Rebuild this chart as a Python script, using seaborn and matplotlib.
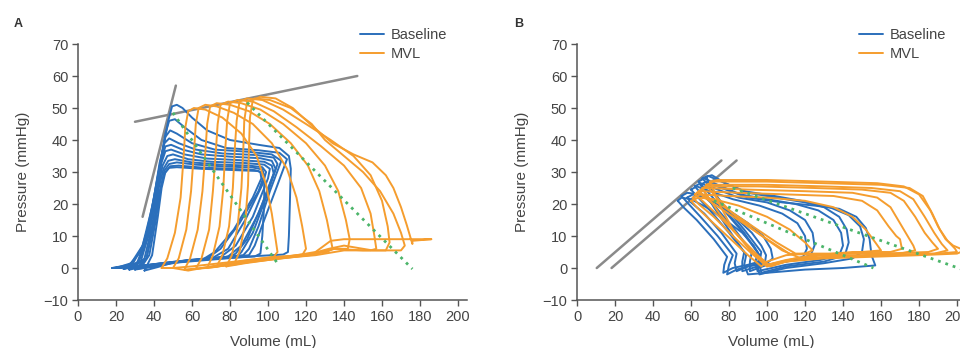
"""Pressure-volume loops, Baseline vs MVL, two panels (A and B)."""

import matplotlib

matplotlib.use("Agg")
import matplotlib.pyplot as plt
import pandas as pd
import seaborn as sns
from matplotlib.lines import Line2D

BLUE = "#2b6fbb"
ORANGE = "#f59d2e"
GRAY = "#8a8a8a"
GREEN = "#4cb56a"

# ---------------------------------------------------------------- panel A
# each loop is a list of (volume mL, pressure mmHg)
A_BASELINE_LOOPS = [
    [(18, 0), (27, 1), (33, 5), (38, 15), (42, 27), (45, 38), (47.5, 46), (49.5, 50.5), (52, 51), (55, 50),
     (60, 47), (68, 43), (80, 40), (95, 38.5), (106, 37.5), (111, 35), (112, 31), (111.5, 20), (111, 10),
     (110.5, 5), (108, 4.2), (90, 3.6), (70, 2.6), (50, 1.6), (33, 0.6), (18, 0)],
    [(20, 0), (28, 1.5), (34, 7), (39, 19), (43, 32), (46, 42), (48, 46), (51, 46.5), (56, 44), (65, 40),
     (78, 37.5), (95, 36.8), (106, 36), (110, 34), (105, 26), (98, 15), (93, 7), (90, 4), (75, 3.2), (55, 2),
     (35, 0.8), (20, 0)],
    [(22, 0), (29, 1.5), (35, 8), (40, 22), (44, 35), (46, 41), (48.5, 43), (52, 42), (60, 39), (72, 37),
     (90, 36.3), (102, 35.5), (107, 33.5), (101, 24), (95, 13), (90, 6), (87, 4), (70, 3), (50, 1.8),
     (30, 0.5), (22, 0)],
    [(24, -0.3), (31, 1.5), (36, 9), (40, 22), (43, 33), (45.5, 39), (48, 40.5), (53, 39), (62, 37),
     (76, 35.8), (94, 35.3), (103, 34.5), (105, 32.5), (99, 22), (92, 11), (86, 5), (84, 3.8), (65, 2.8),
     (45, 1.6), (30, 0.3), (24, -0.3)],
    [(25, 0), (32, 2), (37, 10), (41, 24), (44, 34), (46, 38), (49, 38.5), (55, 37), (65, 35.5), (80, 34.8),
     (96, 34.3), (102, 33.5), (104, 31), (97, 20), (89, 9), (83, 4.5), (80, 3.5), (60, 2.6), (40, 1.2),
     (25, 0)],
    [(27, -0.5), (33, 2), (38, 12), (41.5, 25), (44, 33), (46, 36.5), (49, 37), (56, 35.5), (68, 34.2),
     (85, 33.7), (98, 33.2), (102, 32), (103, 29.5), (95, 17), (86, 7), (79, 3.6), (76, 3.2), (58, 2.4),
     (40, 1), (27, -0.5)],
    [(29, 0), (35, 3), (39, 13), (42, 25), (44.5, 32), (47, 35), (50, 35.5), (58, 34), (70, 33.2),
     (88, 32.8), (98, 32.3), (101, 31), (100, 28), (92, 16), (83, 7), (75, 3.4), (72, 3), (55, 2.2),
     (40, 0.8), (29, 0)],
    [(31, -0.3), (36, 3), (40, 14), (42.5, 25), (45, 31), (47.5, 33.5), (51, 34), (60, 33), (75, 32.3),
     (90, 32), (97, 31.5), (99, 30), (97, 26), (88, 15), (79, 6), (71, 3.2), (68, 2.8), (52, 2), (40, 0.6),
     (31, -0.3)],
    [(33, 0), (37.5, 4), (41, 15), (43.5, 25), (45.5, 30.5), (48, 32.5), (52, 33), (62, 32.3), (78, 31.7),
     (92, 31.4), (97, 30.8), (98, 29), (95, 24), (85, 14), (75, 6), (68, 3), (65, 2.7), (50, 1.8),
     (40, 0.4), (33, 0)],
    [(35, -0.8), (39, 4), (42, 16), (44, 25), (46, 30), (48.5, 31.8), (53, 32), (65, 31.4), (80, 31),
     (93, 30.6), (96, 30), (96.5, 28), (92, 22), (82, 12), (72, 5), (66, 2.8), (50, 1.7), (42, 0.3),
     (35, -0.8)],
    [(30, -0.5), (36, 3), (40, 14), (43, 24), (45.5, 29.5), (48, 31.3), (52, 31.5), (65, 31), (82, 30.6),
     (95, 30.3), (98, 29), (98, 20), (97, 10), (96, 4.5), (93, 3.6), (75, 3), (55, 2), (40, 0.5),
     (30, -0.5)],
]

A_MVL_LOOPS = [
    [(44, 0), (47, 3), (51, 11), (54, 22), (55.5, 34), (56.5, 44), (58, 49), (61, 50), (67, 49.5), (76, 47),
     (86, 42), (94, 35), (99, 26), (102, 17), (104, 9), (105, 5), (103, 3.5), (90, 2.5), (75, 1.5),
     (60, 0.5), (50, 0), (44, 0)],
    [(50, 0), (53, 3), (57, 12), (59.5, 24), (61, 36), (62, 45), (63.5, 50), (67, 51), (73, 50.5),
     (82, 48.5), (92, 45), (102, 39), (110, 31), (115, 22), (118, 13), (120, 6), (118, 4), (105, 3.5),
     (90, 2.5), (70, 0.5), (58, -0.8), (50, 0)],
    [(56, -0.5), (59, 3), (63, 12), (65.5, 24), (67, 36), (68, 45), (69.5, 50.5), (73, 51.5), (80, 51),
     (90, 49), (101, 45), (112, 39), (121, 32), (127, 24), (131, 15), (133, 9), (134, 6), (131, 5),
     (115, 4), (100, 3), (80, 1), (65, 0), (56, -0.5)],
    [(62, -0.3), (65, 3), (69, 12), (71, 24), (72.5, 36), (73.5, 45), (75, 51), (79, 52), (86, 51.5),
     (96, 49.5), (108, 45), (120, 39), (130, 32), (137, 24), (141, 15), (143, 9), (142, 6), (135, 6),
     (125, 4.5), (110, 3.5), (90, 2), (72, 0.3), (62, -0.3)],
    [(68, 0), (71, 4), (74.5, 13), (76.5, 25), (77.5, 37), (78.5, 46), (80, 51.5), (84, 52.5), (92, 52),
     (103, 49), (115, 44), (128, 38), (140, 32), (149, 25), (154, 17), (156, 10), (157, 6), (154, 5.5),
     (140, 5.5), (125, 4), (105, 3), (85, 1.5), (68, 0)],
    [(73, 0.5), (76, 4), (79.5, 13), (81.5, 25), (82.5, 37), (83.5, 46), (85, 52), (89, 53), (97, 52.5),
     (108, 49.5), (120, 45), (133, 40), (145, 35), (154, 29), (160, 21), (163, 13), (164, 8), (162, 5.5),
     (150, 5.5), (135, 6), (122, 4), (100, 2.5), (85, 1.5), (73, 0.5)],
    [(78, 0.5), (81, 4), (84, 13), (86, 25), (87, 37), (87.5, 46), (89, 52), (93, 53), (101, 52.5),
     (112, 50), (123, 45), (130, 40), (140, 35), (150, 30), (159, 24), (166, 17), (170, 11), (172, 7),
     (170, 5.5), (155, 5.5), (140, 7), (132, 6), (120, 4), (100, 2.5), (88, 1.5), (78, 0.5)],
    [(82, 1), (85, 5), (88, 14), (89.5, 26), (90, 38), (90.5, 47), (92, 52.5), (96, 53.5), (104, 53),
     (113, 50), (124, 44), (134, 39), (145, 35.5), (155, 33), (162, 29), (166, 25), (170, 19), (173, 13.5),
     (175, 9.5), (176, 7.5), (176, 8.5), (186, 9), (176, 9), (160, 9), (140, 9), (133, 8.5), (125, 5),
     (110, 3.5), (95, 2.5), (82, 1)],
]

A_GRAY_LINES = [[(34, 16), (51.5, 57)], [(30, 45.7), (147, 60)]]
A_GREEN_LINES = [[(50, 48.5), (106, 0.6)], [(89, 51.7), (176, -0.3)]]

# ---------------------------------------------------------------- panel B
B_BASELINE_LOOPS = [
    [(53, 21), (55, 22), (60, 21.5), (68, 19), (78, 15), (87, 11), (93, 7), (96, 4), (96, 2), (90, 1),
     (82, 0), (77, -1.5), (77.5, 1), (79, 3.5), (72, 9), (63, 15), (56, 19), (53, 21)],
    [(55, 22.5), (58, 23.5), (64, 23), (74, 20), (84, 15.5), (92, 11), (97, 7), (99.5, 4), (99, 2), (93, 1),
     (84, -0.5), (79, -2), (80, 1), (82, 4), (74, 10), (65, 16), (58, 20.5), (55, 22.5)],
    [(58, 22), (61, 23), (68, 22), (80, 18), (90, 14), (98, 10), (102, 6), (103, 3), (100, 1.5), (90, 0.5),
     (84, -1), (83, 1.5), (84, 4.5), (76, 11), (67, 17), (60, 20.5), (58, 22)],
    [(60, 24.5), (63, 25.5), (70, 24), (82, 21.5), (96, 19.5), (108, 17), (116, 14), (120, 10), (121, 6),
     (119, 3.5), (110, 2), (95, 0.5), (87, -1), (87, 2), (88, 5), (80, 11), (70, 18), (63, 22.5),
     (60, 24.5)],
    [(62, 25.5), (65, 26.5), (72, 25), (85, 22), (100, 20.5), (112, 18), (120, 15), (124, 11), (125, 7),
     (123, 4), (115, 2.5), (100, 1), (91, -1), (91, 2), (92, 5), (83, 12), (73, 19), (65, 23.5),
     (62, 25.5)],
    [(64, 27), (67, 28), (74, 26), (86, 23), (100, 21.5), (115, 20), (127, 18), (135, 15), (139, 11),
     (140, 7), (138, 4), (128, 2.5), (110, 1), (95, -1), (94, 2), (95, 5), (86, 12), (76, 19), (67, 25),
     (64, 27)],
    [(66, 28), (69, 28.8), (76, 27), (88, 24), (104, 22.5), (118, 21), (130, 19), (138, 16), (142, 12),
     (143, 8), (141, 4), (130, 2), (110, 0.5), (97, -1.5), (96, 1.5), (97, 5), (88, 12), (78, 19),
     (69, 26), (66, 28)],
    [(68, 28.5), (71, 29), (78, 26.5), (90, 23.5), (105, 22), (120, 20.5), (133, 19), (143, 16.5),
     (149, 13), (151, 9), (150, 5), (145, 3), (130, 1.5), (110, 0), (96, -2), (95, 1), (96, 4), (88, 11),
     (78, 18), (71, 25), (68, 28.5)],
    [(65, 26), (68, 27), (76, 25), (90, 22), (108, 20.5), (125, 19.5), (138, 18.5), (147, 16), (152, 12.5),
     (154, 9), (155, 4), (157, 0.8), (140, 0), (120, -0.5), (100, -1.5), (90, -2), (88, 1), (89, 4),
     (81, 11), (72, 19), (67, 24), (65, 26)],
]

B_MVL_LOOPS = [
    [(60, 21), (64, 22), (72, 21.5), (85, 19.5), (100, 16), (112, 12), (120, 8), (124, 5.5), (120, 4.5),
     (110, 4), (100, 2), (97, 0.5), (90, 4), (80, 9.5), (70, 15), (63, 19), (60, 21)],
    [(61, 22), (65, 23), (80, 22.5), (100, 22), (120, 21), (135, 19), (145, 16), (152, 12), (157, 8),
     (160, 5.5), (150, 5), (130, 4), (115, 3), (104, 1.5), (100, 0.5), (92, 4.5), (82, 10), (72, 16),
     (64, 20), (61, 22)],
    [(62, 23), (66, 24), (85, 23.5), (110, 23), (135, 22.5), (150, 21), (158, 18), (164, 13), (168, 10),
     (170, 9), (171, 6), (165, 5), (145, 5), (125, 4), (110, 2.5), (100, 1), (95, 4), (85, 10), (75, 16),
     (66, 21), (62, 23)],
    [(63, 23.5), (67, 25), (90, 24.5), (120, 24), (145, 23.5), (158, 22), (165, 19), (170, 14), (174, 10),
     (177, 7), (178, 5.5), (170, 4.5), (150, 4), (130, 4), (112, 4.4), (100, 9), (85, 15), (72, 20),
     (65, 23), (63, 23.5)],
    [(64, 24), (68, 25.5), (95, 25.5), (125, 25), (150, 24.5), (165, 23.5), (172, 21), (178, 16), (183, 11),
     (187, 8), (190, 6), (185, 5), (160, 4.5), (135, 4.5), (115, 4.5), (105, 8), (90, 14), (75, 20),
     (66, 23), (64, 24)],
    [(66, 25), (70, 26), (100, 26), (130, 25.5), (155, 25), (170, 24), (177, 21.5), (183, 16), (188, 11),
     (192, 7.5), (195, 5.5), (188, 4.5), (160, 4), (130, 3.5), (110, 2), (102, 0.5), (95, 4), (85, 10),
     (75, 17), (68, 23), (66, 25)],
    [(68, 26), (72, 27), (100, 27), (130, 26.5), (160, 26), (175, 25), (182, 22.5), (187, 17), (191, 12),
     (195, 8.5), (199, 6), (200, 5), (190, 4.5), (165, 4), (140, 3.5), (118, 3), (108, 5.5), (95, 11),
     (82, 17), (72, 23), (68, 26)],
    [(70, 27), (74, 27.5), (100, 27.5), (130, 27), (158, 26.5), (172, 25.5), (180, 23), (186, 18),
     (190, 13), (194, 9), (198, 7), (204, 5.5), (200, 4.5), (180, 4), (155, 3.5), (130, 3), (110, 2),
     (100, 0.5), (92, 5), (82, 12), (74, 21), (70, 27)],
]

B_GRAY_LINES = [[(10.4, 0), (76, 33.6)], [(18.2, 0), (84, 33.6)]]
B_GREEN_LINES = [[(72, 21), (156, 0)], [(82, 25), (203, -0.5)]]

X_TICKS = list(range(0, 201, 20))
Y_TICKS = list(range(-10, 71, 10))


def loops_to_frame(loops, group):
    rows = []
    for i, loop in enumerate(loops):
        for j, (v, p) in enumerate(loop):
            rows.append({"group": group, "loop": i, "order": j, "volume": v, "pressure": p})
    return pd.DataFrame(rows)


def draw_panel(ax, baseline, mvl, gray, green):
    for seg in gray:
        seg_df = loops_to_frame([seg], "gray")
        sns.lineplot(data=seg_df, x="volume", y="pressure", sort=False, estimator=None,
                     color=GRAY, lw=1.8, ax=ax)
    base_df = loops_to_frame(baseline, "Baseline")
    sns.lineplot(data=base_df, x="volume", y="pressure", units="loop", estimator=None, sort=False,
                 color=BLUE, lw=1.4, ax=ax)
    mvl_df = loops_to_frame(mvl, "MVL")
    sns.lineplot(data=mvl_df, x="volume", y="pressure", units="loop", estimator=None, sort=False,
                 color=ORANGE, lw=1.4, ax=ax)
    for seg in green:
        seg_df = loops_to_frame([seg], "green")
        sns.lineplot(data=seg_df, x="volume", y="pressure", sort=False, estimator=None,
                     color=GREEN, lw=2.0, ls=(0, (1, 1.8)), ax=ax)

    ax.set_xlim(0, 205)
    ax.set_ylim(-10, 70)
    ax.set_xticks(X_TICKS)
    ax.set_yticks(Y_TICKS)
    ax.set_xlabel("Volume (mL)", fontsize=11, color="#444444", labelpad=8)
    ax.set_ylabel("Pressure (mmHg)", fontsize=11, color="#444444", labelpad=10)
    ax.tick_params(direction="out", length=4, width=1, colors="#555555", labelsize=10.5,
                   labelcolor="#444444", pad=3)
    for side in ("left", "bottom"):
        ax.spines[side].set_color("#555555")
        ax.spines[side].set_linewidth(1.1)
    sns.despine(ax=ax)

    handles = [Line2D([], [], color=BLUE, lw=1.4), Line2D([], [], color=ORANGE, lw=1.4)]
    ax.legend(handles, ["Baseline", "MVL"], loc="upper left", bbox_to_anchor=(0.725, 1.064),
              frameon=False, fontsize=10.5, handlelength=1.6, handletextpad=0.5,
              labelspacing=0.35, borderpad=0, borderaxespad=0, labelcolor="#444444")


def main():
    sns.set_theme(style="ticks")
    plt.rcParams["font.family"] = ["Liberation Sans", "DejaVu Sans"]

    fig = plt.figure(figsize=(9.6, 3.48), dpi=100)
    ax_a = fig.add_axes([78 / 960, 48 / 348, 389.5 / 960, 256 / 348])
    ax_b = fig.add_axes([577 / 960, 48 / 348, 389.5 / 960, 256 / 348])

    draw_panel(ax_a, A_BASELINE_LOOPS, A_MVL_LOOPS, A_GRAY_LINES, A_GREEN_LINES)
    draw_panel(ax_b, B_BASELINE_LOOPS, B_MVL_LOOPS, B_GRAY_LINES, B_GREEN_LINES)

    fig.text(14 / 960, 1 - 27 / 348, "A", fontsize=9, fontweight="bold", color="#333333")
    fig.text(514 / 960, 1 - 27 / 348, "B", fontsize=9, fontweight="bold", color="#333333")

    fig.savefig("out.png", dpi=100)


if __name__ == "__main__":
    main()
